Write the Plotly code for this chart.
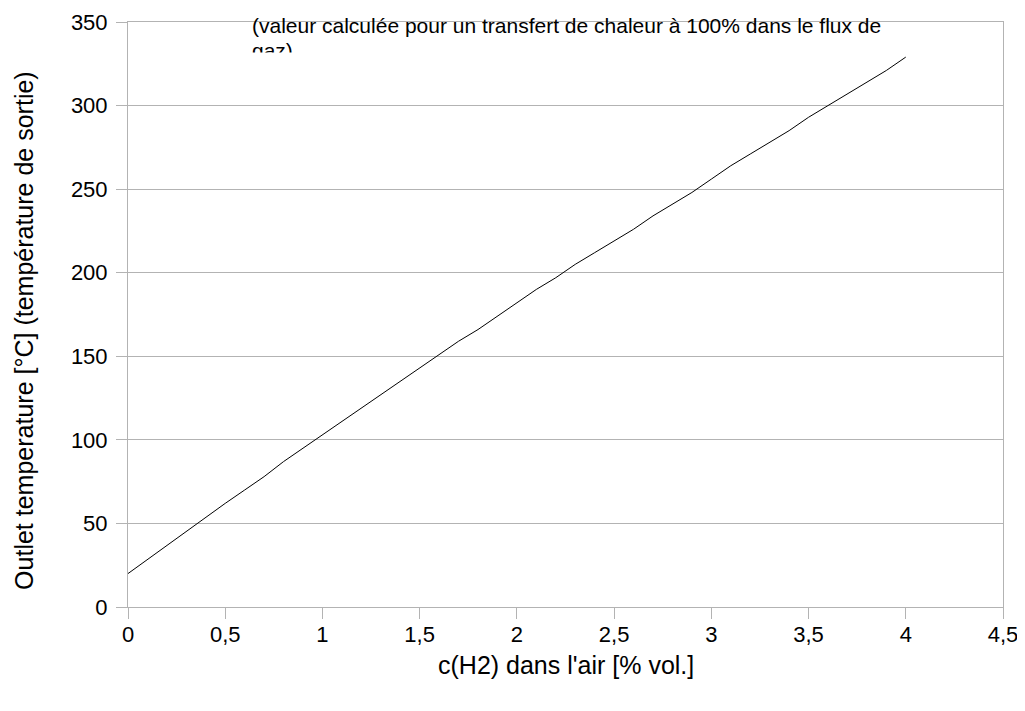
import plotly.graph_objects as go

x_vals = [0.0, 0.1, 0.2, 0.3, 0.4, 0.5, 0.6, 0.7, 0.8, 0.9,
          1.0, 1.1, 1.2, 1.3, 1.4, 1.5, 1.6, 1.7, 1.8, 1.9,
          2.0, 2.1, 2.2, 2.3, 2.4, 2.5, 2.6, 2.7, 2.8, 2.9,
          3.0, 3.1, 3.2, 3.3, 3.4, 3.5, 3.6, 3.7, 3.8, 3.9, 4.0]
y_vals = [20, 28.5, 37, 45.5, 54, 62, 70, 78, 87, 95,
          103, 111, 119, 127, 135, 143, 151, 159, 166, 174,
          182, 190, 197, 205, 212, 219, 226, 234, 241, 248,
          256, 264, 271, 278, 285, 293, 300, 307, 314, 321, 329]

x_ticks = [0, 0.5, 1, 1.5, 2, 2.5, 3, 3.5, 4, 4.5]
x_tick_labels = ["0", "0,5", "1", "1,5", "2", "2,5", "3", "3,5", "4", "4,5"]
y_ticks = [0, 50, 100, 150, 200, 250, 300, 350]

FONT = "Liberation Sans, Arial, sans-serif"
GRAY = "#b3b3b3"

fig = go.Figure()
fig.add_trace(go.Scatter(x=x_vals, y=y_vals, mode="lines",
                         line=dict(color="#000000", width=1), showlegend=False))

fig.update_layout(
    width=1025, height=711,
    margin=dict(l=120, r=30, t=14, b=112),
    paper_bgcolor="white", plot_bgcolor="white",
    font=dict(family=FONT, size=22, color="black"),
    xaxis=dict(range=[0, 4.5], tickvals=x_ticks, ticktext=x_tick_labels,
               showgrid=False, zeroline=False, showline=True, linecolor=GRAY,
               linewidth=1, mirror=True, ticks="outside", ticklen=11,
               tickcolor=GRAY, tickfont=dict(size=22), automargin=False,
               ticklabelstandoff=-3),
    yaxis=dict(range=[0, 350], tickvals=y_ticks, showgrid=True, gridcolor=GRAY,
               gridwidth=1, zeroline=False, showline=True, linecolor=GRAY,
               linewidth=1, mirror=True, ticks="outside", ticklen=11,
               tickcolor=GRAY, tickfont=dict(size=22), automargin=False,
               ticklabelstandoff=4),
    annotations=[
        dict(text="c(H2) dans l'air [% vol.]", xref="paper", yref="paper",
             x=0.5, y=-0.099, xanchor="center", yanchor="middle",
             showarrow=False, font=dict(size=25)),
        dict(text="Outlet temperature [°C] (température de sortie)",
             xref="paper", yref="paper", x=0, xshift=-104, y=0.472,
             xanchor="center", yanchor="middle", textangle=-90,
             showarrow=False, font=dict(size=25)),
        dict(text="(valeur calculée pour un transfert de chaleur à 100% dans le flux de",
             xref="paper", yref="paper", x=0, xshift=122, y=1, yshift=-3,
             xanchor="left", yanchor="middle", showarrow=False, font=dict(size=21)),
        dict(text="gaz)",
             xref="paper", yref="paper", x=0, xshift=122, y=1, yshift=-28,
             xanchor="left", yanchor="middle", showarrow=False, font=dict(size=21)),
        dict(text=" ", xref="paper", yref="paper", x=0, xshift=115, y=1, yshift=-39,
             xanchor="left", yanchor="middle", showarrow=False, width=70, height=14,
             bgcolor="white", font=dict(size=8)),
    ],
)

fig.write_html("out.html")
